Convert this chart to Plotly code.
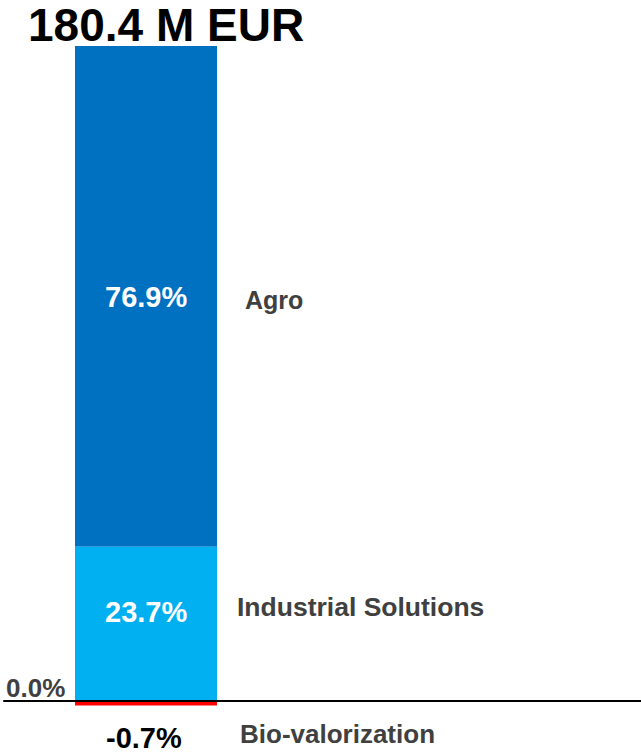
import plotly.graph_objects as go

# Data
title_text = "180.4 M EUR"
segments = ["Agro", "Industrial Solutions", "Bio-valorization"]
shares = [76.9, 23.7, -0.7]
share_labels = ["76.9%", "23.7%", "-0.7%"]
colors = ["#0070C0", "#00B0F0", "#FF0000"]
zero_label = "0.0%"

fig = go.Figure()

# stack order: Industrial at bottom, Agro on top, Bio below zero
bases = {"Industrial Solutions": 0, "Agro": shares[1], "Bio-valorization": 0}
for name, val, col in zip(segments, shares, colors):
    fig.add_trace(go.Bar(
        x=[0], y=[val], base=[bases[name]], width=1,
        marker=dict(color=col, line=dict(width=0)),
        name=name, showlegend=False, hoverinfo="skip",
    ))

font_family = "Liberation Sans, Arial, sans-serif"
ann = []
# value labels
agro_mid = shares[1] + shares[0] / 2
ind_mid = shares[1] / 2
ann.append(dict(x=0, y=agro_mid, text=f"<b>{share_labels[0]}</b>", showarrow=False,
                font=dict(size=29, color="white", family=font_family), xanchor="center", yanchor="middle", yshift=-1))
ann.append(dict(x=0, y=ind_mid, text=f"<b>{share_labels[1]}</b>", showarrow=False,
                font=dict(size=29, color="white", family=font_family), xanchor="center", yanchor="middle", yshift=12))
ann.append(dict(x=0, y=shares[2], text=f"<b>{share_labels[2]}</b>", showarrow=False,
                font=dict(size=29, color="black", family=font_family), xanchor="center", yanchor="middle",
                xshift=-2, yshift=-32))
# segment names
ann.append(dict(x=0.5, y=agro_mid, text=f"<b>{segments[0]}</b>", showarrow=False,
                font=dict(size=25, color="#404040", family=font_family), xanchor="left", yanchor="middle", xshift=26, yshift=-4))
ann.append(dict(x=0.5, y=ind_mid, text=f"<b>{segments[1]}</b>", showarrow=False,
                font=dict(size=26.5, color="#404040", family=font_family), xanchor="left", yanchor="middle", xshift=18, yshift=17))
ann.append(dict(x=0.5, y=shares[2], text=f"<b>{segments[2]}</b>", showarrow=False,
                font=dict(size=26, color="#404040", family=font_family), xanchor="left", yanchor="middle", xshift=21, yshift=-28))
# zero label
ann.append(dict(x=-0.5, y=0, text=f"<b>{zero_label}</b>", showarrow=False,
                font=dict(size=26, color="#404040", family=font_family), xanchor="right", yanchor="middle", xshift=-8, yshift=13))
# title
ann.append(dict(x=0.04, y=1, xref="paper", yref="paper", text=f"<b>{title_text}</b>", showarrow=False,
                font=dict(size=46, color="black", family=font_family), xanchor="left", yanchor="top", yshift=3))

fig.update_layout(
    width=641, height=752,
    margin=dict(l=0, r=0, t=0, b=0),
    paper_bgcolor="white", plot_bgcolor="white",
    barmode="overlay",
    xaxis=dict(range=[-146 / 142, (641 - 146) / 142], visible=False, fixedrange=True),
    yaxis=dict(range=[-7.83, 107.67], visible=False, fixedrange=True),
    annotations=ann,
    shapes=[dict(type="line", xref="paper", yref="y", x0=0.005, x1=1, y0=0, y1=0,
                 line=dict(color="black", width=2))],
)

fig.write_html("out.html", config={"displayModeBar": False})
